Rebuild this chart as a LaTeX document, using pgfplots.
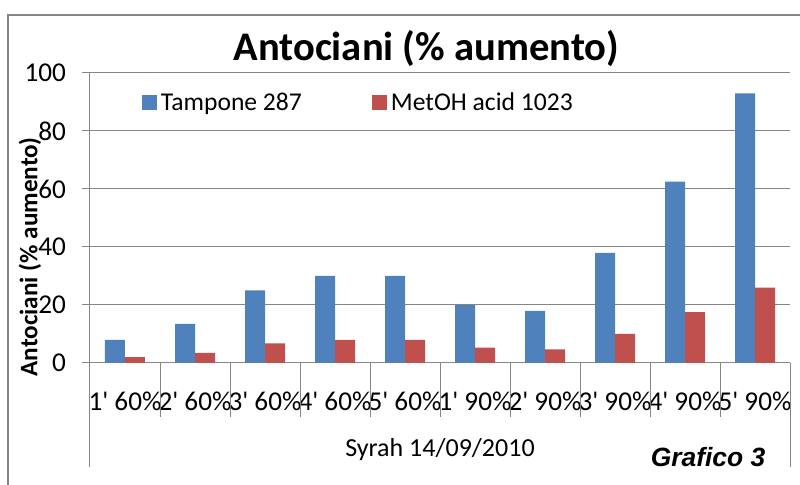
\documentclass[border=0pt]{standalone}
\usepackage{fontspec}
\setmainfont{Carlito}[Ligatures=TeXOff]
\newfontfamily\arialfont{Liberation Sans}
\usepackage{pgfplots}
\pgfplotsset{compat=1.18}
\definecolor{tblue}{HTML}{4F81BD}
\definecolor{tred}{HTML}{C0504D}
\definecolor{gridgray}{HTML}{868686}
\begin{document}
\begin{tikzpicture}
\path[use as bounding box] (0,0) rectangle (400pt,242.5pt);
\begin{scope}
\clip (0,0) rectangle (400pt,242.5pt);
\draw[gridgray, line width=0.9pt] (4pt,-5pt) -- (4pt,235pt) -- (405pt,235pt);
\end{scope}
\begin{axis}[
  at={(45pt,61pt)}, anchor=south west,
  scale only axis, width=350pt, height=145pt,
  xmin=-0.5, xmax=9.5, ymin=0, ymax=100,
  ybar=0pt, bar width=10pt,
  axis x line*=bottom, axis y line*=left,
  axis line style={gridgray, line width=0.5pt},
  ytick={0,20,...,100},
  ymajorgrids, grid style={gridgray, line width=0.5pt},
  tick align=outside,
  y tick style={gridgray, line width=0.5pt}, major tick length=4pt,
  xtick={0,...,9},
  xticklabels={1' 60\%,2' 60\%,3' 60\%,4' 60\%,5' 60\%,1' 90\%,2' 90\%,3' 90\%,4' 90\%,5' 90\%},
  x tick style={draw=none},
  /pgf/number format/assume math mode=true,
  ticklabel style={font=\fontsize{13.6}{15}\selectfont},
  xticklabel style={anchor=base, yshift=-20pt},
  yticklabel style={xshift=-4.5pt},
  legend style={at={(rel axis cs:0.065,0.897)}, anchor=west, draw=none, fill=none,
    legend columns=2, font=\fontsize{12.8}{15}\selectfont,
    /tikz/every even column/.append style={column sep=33pt}},
  legend image code/.code={\fill[#1] (0pt,-3.75pt) rectangle (7.5pt,3.75pt);},
  clip=false,
]
\addplot[fill=tblue, draw=none] coordinates {(0,8) (1,13.5) (2,25) (3,30) (4,30) (5,20) (6,18) (7,38) (8,62.5) (9,93)};
\addplot[fill=tred, draw=none] coordinates {(0,2) (1,3.5) (2,6.8) (3,8) (4,8) (5,5.3) (6,4.7) (7,10) (8,17.5) (9,26)};
\legend{Tampone 287, MetOH acid 1023}
\pgfplotsinvokeforeach{0.5,1.5,2.5,3.5,4.5,5.5,6.5,7.5,8.5}{
  \draw[gridgray, line width=0.5pt] (axis cs:#1,0) -- ([yshift=-27pt]axis cs:#1,0);
}
\draw[gridgray, line width=0.5pt] (axis cs:-0.5,0) -- ([yshift=-52pt]axis cs:-0.5,0);
\draw[gridgray, line width=0.5pt] (axis cs:9.5,0) -- ([yshift=-52pt]axis cs:9.5,0);
\end{axis}
\node[anchor=base, font=\fontsize{20.3}{24}\selectfont\bfseries] at (213pt,212pt) {Antociani (\% aumento)};
\node[rotate=90, font=\fontsize{12.6}{15}\selectfont\bfseries] at (15pt,114pt) {Antociani (\% aumento)};
\node[font=\fontsize{13}{15}\selectfont] at (220pt,17.5pt) {Syrah 14/09/2010};
\node[font=\arialfont\fontsize{13.2}{15}\selectfont\bfseries\itshape] at (354pt,14pt) {Grafico 3};
\end{tikzpicture}
\end{document}
